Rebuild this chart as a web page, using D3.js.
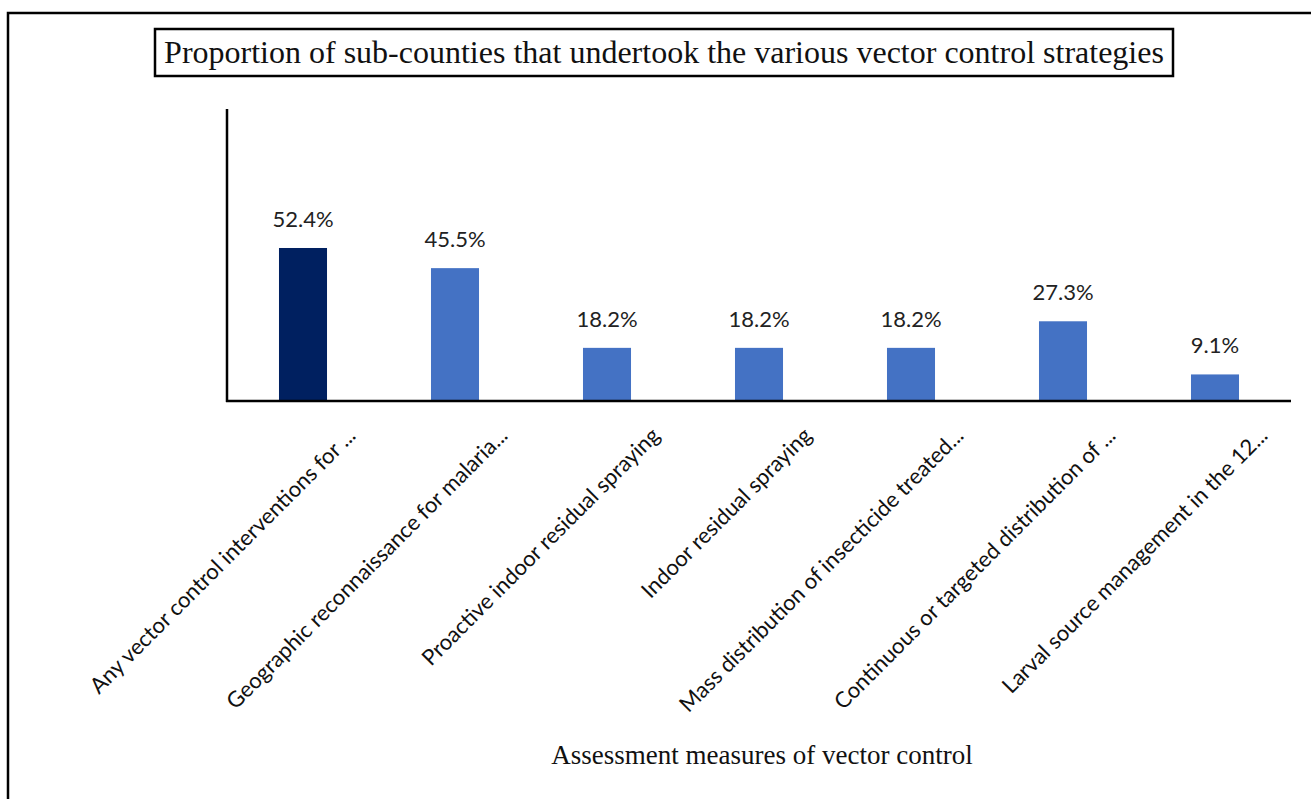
<!DOCTYPE html>
<html>
<head>
    <meta charset="UTF-8">
    <script src="https://cdn.jsdelivr.net/npm/d3@7"></script>
    <style>
        body { margin: 0; background: #fff; }
    </style>
</head>
<body>
<svg id="chart" width="1311" height="799"></svg>
<script>

// data
let categories = [
    "Any vector control interventions for ...",
    "Geographic reconnaissance for malaria...",
    "Proactive indoor residual spraying",
    "Indoor residual spraying",
    "Mass distribution of insecticide treated...",
    "Continuous or targeted distribution of ...",
    "Larval source management in the 12..."
];
let values = [52.4, 45.5, 18.2, 18.2, 18.2, 27.3, 9.1];
let barColors = ["#002060", "#4472C4", "#4472C4", "#4472C4", "#4472C4", "#4472C4", "#4472C4"];
let titleText = "Proportion of sub-counties that undertook the various vector control strategies";
let xTitleText = "Assessment measures of vector control";

let svg = d3.select("#chart");

// outer frame (top + left edges only)
svg.append("path")
    .attr("d", "M8,799 L8,13 L1311,13")
    .attr("fill", "none")
    .attr("stroke", "#000")
    .attr("stroke-width", 2.5);

// scales
let x = d3.scaleBand()
    .domain(categories)
    .range([227, 1291])
    .paddingInner(0.684)
    .paddingOuter(0.342);
let y = d3.scaleLinear([0, 100], [401, 109]);

// bars
svg.selectAll("rect.bar")
    .data(values)
    .join("rect")
    .attr("class", "bar")
    .attr("x", (d, i) => x(categories[i]))
    .attr("y", d => y(d))
    .attr("width", x.bandwidth())
    .attr("height", d => y(0) - y(d))
    .attr("fill", (d, i) => barColors[i]);

// value labels
svg.selectAll("text.val")
    .data(values)
    .join("text")
    .attr("class", "val")
    .attr("x", (d, i) => x(categories[i]) + x.bandwidth() / 2)
    .attr("y", d => y(d) - 21)
    .attr("text-anchor", "middle")
    .style("font-family", "Lato, 'Noto Sans', sans-serif")
    .style("font-size", "22px")
    .style("fill", "#222")
    .text(d => d.toFixed(1) + "%");

// axes lines
svg.append("line")
    .attr("x1", 227).attr("x2", 227)
    .attr("y1", y(100)).attr("y2", y(0) + 1)
    .attr("stroke", "#000").attr("stroke-width", 2.5);
svg.append("line")
    .attr("x1", 226).attr("x2", 1291)
    .attr("y1", y(0)).attr("y2", y(0))
    .attr("stroke", "#000").attr("stroke-width", 2.5);

// category labels, rotated
svg.selectAll("text.cat")
    .data(categories)
    .join("text")
    .attr("class", "cat")
    .attr("transform", d => "translate(" + (x(d) + x.bandwidth() / 2 + 54) + ",437) rotate(-45)")
    .attr("text-anchor", "end")
    .style("font-family", "Lato, 'Noto Sans', sans-serif")
    .style("font-size", "22px")
    .style("fill", "#111")
    .text(d => d);

// x axis title
svg.append("text")
    .attr("x", 762)
    .attr("y", 764)
    .attr("text-anchor", "middle")
    .style("font-family", "'Liberation Serif', 'Times New Roman', serif")
    .style("font-size", "27px")
    .style("fill", "#111")
    .text(xTitleText);

// title with box
let title = svg.append("text")
    .attr("x", 664)
    .attr("y", 63)
    .attr("text-anchor", "middle")
    .style("font-family", "'Liberation Serif', 'Times New Roman', serif")
    .style("font-size", "32px")
    .style("fill", "#111")
    .text(titleText);

svg.insert("rect", "text")
    .attr("x", 155)
    .attr("y", 29)
    .attr("width", 1018)
    .attr("height", 47)
    .attr("fill", "none")
    .attr("stroke", "#000")
    .attr("stroke-width", 2.5);

</script>
</body>
</html>
